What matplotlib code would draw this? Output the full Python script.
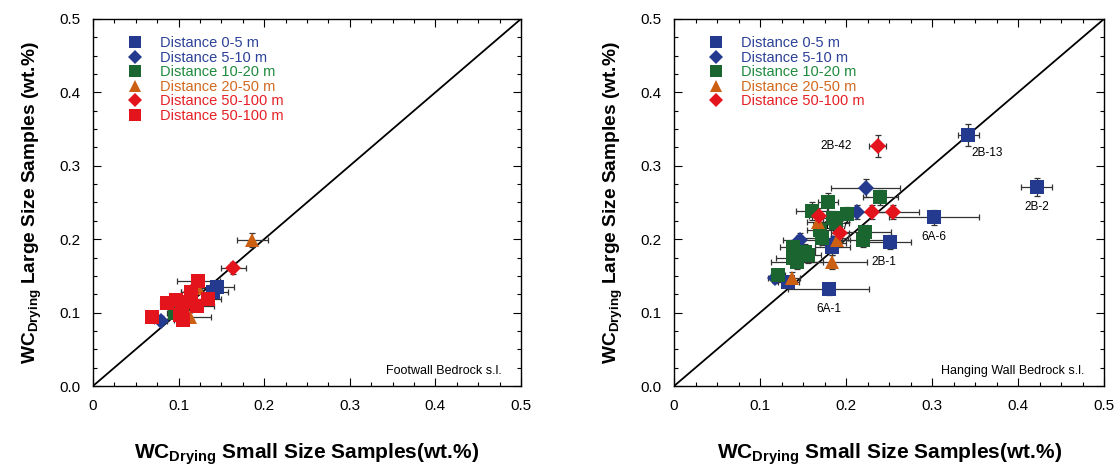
import matplotlib
matplotlib.use("Agg")
import matplotlib.pyplot as plt
from matplotlib.ticker import MultipleLocator, FuncFormatter

plt.rcParams['font.family'] = ['Liberation Sans', 'DejaVu Sans']
plt.rcParams['mathtext.fontset'] = 'custom'
plt.rcParams['mathtext.rm'] = 'Liberation Sans'
plt.rcParams['mathtext.bf'] = 'Liberation Sans:bold'

# ---- Footwall (left) data ----
fw_d05_x = [0.145, 0.140]
fw_d05_y = [0.135, 0.128]
fw_d05_xe = [0.020, 0.018]
fw_d05_ye = [0.008, 0.007]

fw_d510_x = [0.079, 0.110]
fw_d510_y = [0.089, 0.116]
fw_d510_xe = [0.008, 0.012]
fw_d510_ye = [0.006, 0.007]

fw_d1020_x = [0.096, 0.100]
fw_d1020_y = [0.100, 0.107]
fw_d1020_xe = [0.010, 0.012]
fw_d1020_ye = [0.007, 0.007]

fw_d2050_x = [0.186, 0.123, 0.113]
fw_d2050_y = [0.199, 0.134, 0.094]
fw_d2050_xe = [0.018, 0.015, 0.025]
fw_d2050_ye = [0.010, 0.008, 0.007]

fw_d50100d_x = [0.164, 0.115]
fw_d50100d_y = [0.161, 0.128]
fw_d50100d_xe = [0.015, 0.012]
fw_d50100d_ye = [0.008, 0.007]

fw_d50100s_x = [0.123, 0.069, 0.086, 0.097, 0.115, 0.134, 0.121, 0.104, 0.105, 0.102, 0.110]
fw_d50100s_y = [0.143, 0.094, 0.113, 0.117, 0.128, 0.118, 0.109, 0.104, 0.090, 0.097, 0.115]
fw_d50100s_xe = [0.025, 0.006, 0.008, 0.010, 0.012, 0.015, 0.020, 0.012, 0.010, 0.010, 0.012]
fw_d50100s_ye = [0.008, 0.005, 0.006, 0.006, 0.007, 0.007, 0.006, 0.006, 0.005, 0.006, 0.006]

# ---- Hanging wall (right) data ----
hw_d05_x = [0.342, 0.422, 0.302, 0.251, 0.180, 0.184, 0.133]
hw_d05_y = [0.342, 0.271, 0.230, 0.196, 0.132, 0.189, 0.142]
hw_d05_xe = [0.012, 0.018, 0.052, 0.025, 0.047, 0.020, 0.012]
hw_d05_ye = [0.015, 0.012, 0.010, 0.010, 0.008, 0.010, 0.008]

hw_d510_x = [0.223, 0.213, 0.147, 0.117, 0.185]
hw_d510_y = [0.270, 0.237, 0.199, 0.147, 0.195]
hw_d510_xe = [0.040, 0.012, 0.020, 0.008, 0.015]
hw_d510_ye = [0.012, 0.010, 0.010, 0.007, 0.010]

hw_d1020_x = [0.240, 0.201, 0.222, 0.220, 0.179, 0.160, 0.185, 0.170, 0.172,
              0.138, 0.152, 0.138, 0.156, 0.143, 0.121, 0.188]
hw_d1020_y = [0.257, 0.234, 0.210, 0.199, 0.251, 0.238, 0.229, 0.213, 0.202,
              0.189, 0.183, 0.174, 0.178, 0.169, 0.151, 0.222]
hw_d1020_xe = [0.020, 0.010, 0.030, 0.025, 0.012, 0.018, 0.012, 0.015, 0.030,
               0.015, 0.012, 0.020, 0.015, 0.030, 0.008, 0.015]
hw_d1020_ye = [0.010, 0.010, 0.010, 0.010, 0.012, 0.012, 0.010, 0.010, 0.010,
               0.010, 0.010, 0.010, 0.010, 0.010, 0.008, 0.010]

hw_d2050_x = [0.167, 0.190, 0.184, 0.137]
hw_d2050_y = [0.223, 0.199, 0.169, 0.147]
hw_d2050_xe = [0.012, 0.015, 0.040, 0.010]
hw_d2050_ye = [0.010, 0.010, 0.010, 0.008]

hw_d50100_x = [0.237, 0.230, 0.255, 0.169, 0.193]
hw_d50100_y = [0.327, 0.237, 0.237, 0.232, 0.208]
hw_d50100_xe = [0.010, 0.025, 0.030, 0.012, 0.010]
hw_d50100_ye = [0.015, 0.010, 0.010, 0.010, 0.010]

# sample names on the right panel
hw_names = ['2B-13', '2B-2', '6A-6', '2B-1', '6A-1', '2B-42', '1D-7']
hw_name_x = [0.342, 0.422, 0.302, 0.251, 0.180, 0.237, 0.188]
hw_name_y = [0.342, 0.271, 0.230, 0.196, 0.132, 0.327, 0.222]
hw_name_off = [(14, -13), (0, -14), (0, -14), (-4, -14), (0, -14), (-30, 0), (0, -2)]

BLUE = '#233a8f'
GREEN = '#1a6530'
ORANGE = '#cc5f12'
RED = '#e4141d'
TXT_BLUE = '#2c4198'
TXT_GREEN = '#1f8a3c'
TXT_ORANGE = '#d2691e'
TXT_RED = '#e52026'

fig = plt.figure(figsize=(11.16, 4.70), dpi=100)
ax1 = fig.add_axes([0.0833, 0.1787, 0.3835, 0.781])
ax2 = fig.add_axes([0.604, 0.1787, 0.3853, 0.781])


def draw_group(ax, x, y, xe, ye, marker, color, label, ms):
    ax.errorbar(x, y, xerr=xe, yerr=ye, fmt='none', ecolor='#333333',
                elinewidth=0.9, capsize=2.5, capthick=0.9, zorder=2)
    ax.plot(x, y, linestyle='none', marker=marker, color=color, markersize=ms,
            markeredgewidth=0, label=label, zorder=3)


def style_axes(ax, note):
    ax.plot([0, 0.5], [0, 0.5], color='black', lw=1.3, zorder=1)
    ax.set_xlim(0, 0.5)
    ax.set_ylim(0, 0.5)
    ax.xaxis.set_major_locator(MultipleLocator(0.1))
    ax.xaxis.set_minor_locator(MultipleLocator(0.025))
    ax.yaxis.set_major_locator(MultipleLocator(0.1))
    ax.yaxis.set_minor_locator(MultipleLocator(0.025))
    ax.xaxis.set_major_formatter(FuncFormatter(lambda v, p: '0' if abs(v) < 1e-9 else f'{v:.1f}'))
    ax.yaxis.set_major_formatter(FuncFormatter(lambda v, p: f'{v:.1f}'))
    ax.tick_params(which='both', direction='in', top=True, right=True, labelsize=11)
    ax.tick_params(which='major', length=6, width=0.8, pad=9)
    ax.tick_params(which='minor', length=3, width=0.8)
    for s in ax.spines.values():
        s.set_linewidth(1.0)
    ax.set_xlabel(r'$\mathbf{WC_{Drying}}$ Small Size Samples(wt.%)',
                  fontsize=15, fontweight='bold', labelpad=21)
    ax.set_ylabel(r'$\mathbf{WC_{Drying}}$ Large Size Samples (wt.%)',
                  fontsize=13.8, fontweight='bold', labelpad=11)
    ax.text(0.955, 0.025, note, transform=ax.transAxes, ha='right', va='bottom', fontsize=9)


draw_group(ax1, fw_d05_x, fw_d05_y, fw_d05_xe, fw_d05_ye, 's', BLUE, 'Distance 0-5 m', 9.5)
draw_group(ax1, fw_d510_x, fw_d510_y, fw_d510_xe, fw_d510_ye, 'D', BLUE, 'Distance 5-10 m', 8.5)
draw_group(ax1, fw_d1020_x, fw_d1020_y, fw_d1020_xe, fw_d1020_ye, 's', GREEN, 'Distance 10-20 m', 9.5)
draw_group(ax1, fw_d2050_x, fw_d2050_y, fw_d2050_xe, fw_d2050_ye, '^', ORANGE, 'Distance 20-50 m', 10)
draw_group(ax1, fw_d50100d_x, fw_d50100d_y, fw_d50100d_xe, fw_d50100d_ye, 'D', RED, 'Distance 50-100 m', 8.5)
draw_group(ax1, fw_d50100s_x, fw_d50100s_y, fw_d50100s_xe, fw_d50100s_ye, 's', RED, 'Distance 50-100 m', 9.5)
style_axes(ax1, 'Footwall Bedrock s.l.')

draw_group(ax2, hw_d05_x, hw_d05_y, hw_d05_xe, hw_d05_ye, 's', BLUE, 'Distance 0-5 m', 9.5)
draw_group(ax2, hw_d510_x, hw_d510_y, hw_d510_xe, hw_d510_ye, 'D', BLUE, 'Distance 5-10 m', 8.5)
draw_group(ax2, hw_d1020_x, hw_d1020_y, hw_d1020_xe, hw_d1020_ye, 's', GREEN, 'Distance 10-20 m', 9.5)
draw_group(ax2, hw_d2050_x, hw_d2050_y, hw_d2050_xe, hw_d2050_ye, '^', ORANGE, 'Distance 20-50 m', 10)
draw_group(ax2, hw_d50100_x, hw_d50100_y, hw_d50100_xe, hw_d50100_ye, 'D', RED, 'Distance 50-100 m', 8.5)
style_axes(ax2, 'Hanging Wall Bedrock s.l.')

for name, nx, ny, off in zip(hw_names, hw_name_x, hw_name_y, hw_name_off):
    ax2.annotate(name, (nx, ny), xytext=off, textcoords='offset points',
                 ha='center', va='center', fontsize=8.5, zorder=2.5 if name == '1D-7' else 5)

txt_colors1 = [TXT_BLUE, TXT_BLUE, TXT_GREEN, TXT_ORANGE, TXT_RED, TXT_RED]
txt_colors2 = [TXT_BLUE, TXT_BLUE, TXT_GREEN, TXT_ORANGE, TXT_RED]
for ax, cols in ((ax1, txt_colors1), (ax2, txt_colors2)):
    ax.legend(loc='upper left', bbox_to_anchor=(0.04, 0.98), frameon=False,
              fontsize=10.5, handletextpad=0.7, labelspacing=0.03,
              borderaxespad=0.3, markerscale=0.85, labelcolor=cols)

fig.savefig('out.png', dpi=100)
